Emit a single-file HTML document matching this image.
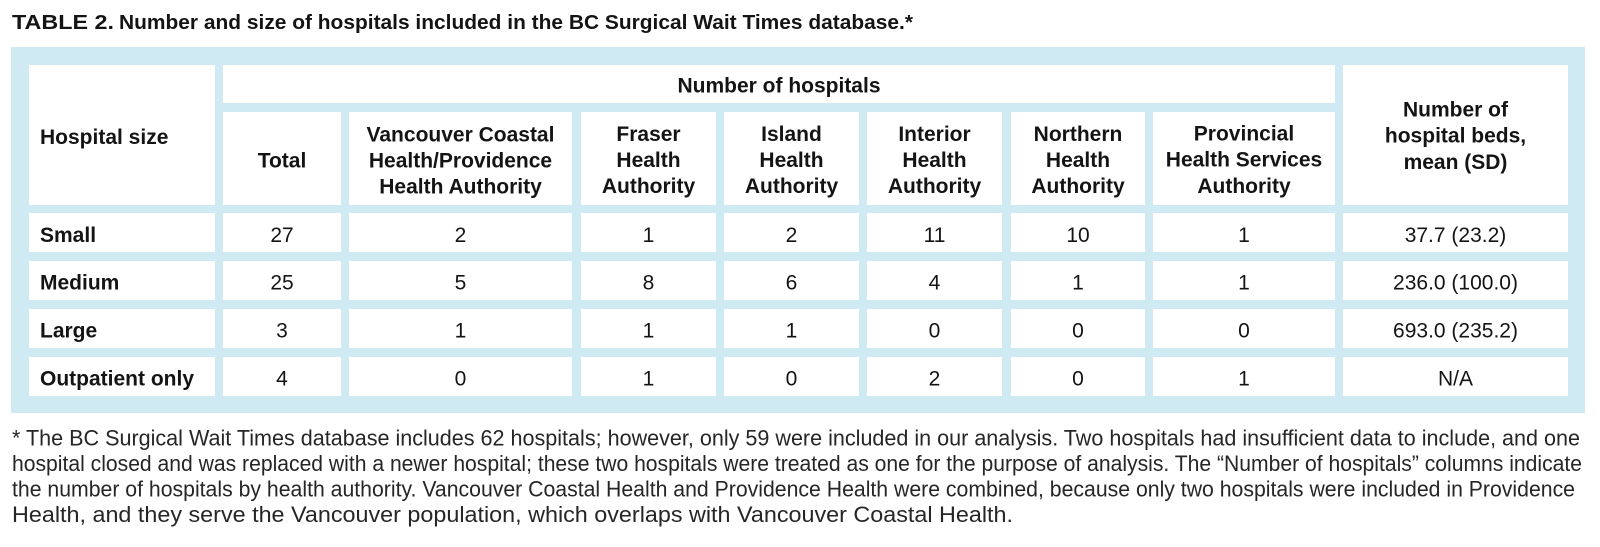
<!DOCTYPE html>
<html>
<head>
<meta charset="utf-8">
<style>
  html, body { margin: 0; padding: 0; background: #ffffff; }
  svg { display: block; }
  .h { font-family: "Liberation Sans", Arial, sans-serif; font-weight: bold; font-size: 21px; fill: #141414; }
  .d { font-family: "Liberation Sans", Arial, sans-serif; font-size: 21px; fill: #141414; }
  .b { font-family: "Liberation Sans", Arial, sans-serif; font-weight: bold; font-size: 21px; fill: #141414; }
  .fn { font-family: "Liberation Sans", Arial, sans-serif; font-size: 22px; fill: #262626; }
  .t { font-family: "Liberation Sans", Arial, sans-serif; font-weight: bold; font-size: 20px; fill: #141414; }
</style>
</head>
<body>
<svg width="1600" height="547" viewBox="0 0 1600 547" xmlns="http://www.w3.org/2000/svg">
  <!-- Title -->
  <text class="t" x="12" y="29" textLength="102" lengthAdjust="spacingAndGlyphs">TABLE 2.</text>
  <text class="t" x="119" y="29" textLength="794" lengthAdjust="spacingAndGlyphs">Number and size of hospitals included in the BC Surgical Wait Times database.*</text>

  <!-- Outer blue box -->
  <rect x="11" y="47" width="1574" height="366" fill="#cfeaf3"/>

  <!-- Header cells -->
  <g fill="#ffffff">
    <rect x="29" y="65" width="186" height="140"/>
    <rect x="223" y="65" width="1112" height="38"/>
    <rect x="1343" y="65" width="225" height="140"/>
    <rect x="223" y="112" width="118" height="93"/>
    <rect x="349" y="112" width="223" height="93"/>
    <rect x="581" y="112" width="135" height="93"/>
    <rect x="724" y="112" width="135" height="93"/>
    <rect x="867" y="112" width="135" height="93"/>
    <rect x="1011" y="112" width="134" height="93"/>
    <rect x="1153" y="112" width="182" height="93"/>
  </g>

  <!-- Data cells -->
  <g fill="#ffffff">
    <!-- row tops: 213, 261, 309, 357 -->
    <rect x="29" y="213" width="186" height="39"/><rect x="223" y="213" width="118" height="39"/><rect x="349" y="213" width="223" height="39"/><rect x="581" y="213" width="135" height="39"/><rect x="724" y="213" width="135" height="39"/><rect x="867" y="213" width="135" height="39"/><rect x="1011" y="213" width="134" height="39"/><rect x="1153" y="213" width="182" height="39"/><rect x="1343" y="213" width="225" height="39"/>
    <rect x="29" y="261" width="186" height="39"/><rect x="223" y="261" width="118" height="39"/><rect x="349" y="261" width="223" height="39"/><rect x="581" y="261" width="135" height="39"/><rect x="724" y="261" width="135" height="39"/><rect x="867" y="261" width="135" height="39"/><rect x="1011" y="261" width="134" height="39"/><rect x="1153" y="261" width="182" height="39"/><rect x="1343" y="261" width="225" height="39"/>
    <rect x="29" y="309" width="186" height="39"/><rect x="223" y="309" width="118" height="39"/><rect x="349" y="309" width="223" height="39"/><rect x="581" y="309" width="135" height="39"/><rect x="724" y="309" width="135" height="39"/><rect x="867" y="309" width="135" height="39"/><rect x="1011" y="309" width="134" height="39"/><rect x="1153" y="309" width="182" height="39"/><rect x="1343" y="309" width="225" height="39"/>
    <rect x="29" y="357" width="186" height="39"/><rect x="223" y="357" width="118" height="39"/><rect x="349" y="357" width="223" height="39"/><rect x="581" y="357" width="135" height="39"/><rect x="724" y="357" width="135" height="39"/><rect x="867" y="357" width="135" height="39"/><rect x="1011" y="357" width="134" height="39"/><rect x="1153" y="357" width="182" height="39"/><rect x="1343" y="357" width="225" height="39"/>
  </g>

  <!-- Header text -->
  <text class="h" x="40" y="144">Hospital size</text>
  <text class="h" x="779" y="92.5" text-anchor="middle">Number of hospitals</text>
  <text class="h" x="282" y="167.5" text-anchor="middle">Total</text>

  <g class="h" text-anchor="middle">
    <text x="460.5" y="141.5">Vancouver Coastal</text>
    <text x="460.5" y="167.5">Health/Providence</text>
    <text x="460.5" y="193.5">Health Authority</text>

    <text x="648.5" y="141">Fraser</text>
    <text x="648.5" y="167">Health</text>
    <text x="648.5" y="193">Authority</text>

    <text x="791.5" y="141">Island</text>
    <text x="791.5" y="167">Health</text>
    <text x="791.5" y="193">Authority</text>

    <text x="934.5" y="141">Interior</text>
    <text x="934.5" y="167">Health</text>
    <text x="934.5" y="193">Authority</text>

    <text x="1078" y="141">Northern</text>
    <text x="1078" y="167">Health</text>
    <text x="1078" y="193">Authority</text>

    <text x="1244" y="140.5">Provincial</text>
    <text x="1244" y="166.5">Health Services</text>
    <text x="1244" y="193">Authority</text>

    <text x="1455.5" y="116.5">Number of</text>
    <text x="1455.5" y="142.5">hospital beds,</text>
    <text x="1455.5" y="169">mean (SD)</text>
  </g>

  <!-- Row labels -->
  <text class="b" x="40" y="242">Small</text>
  <text class="b" x="40" y="289.5">Medium</text>
  <text class="b" x="40" y="337.5">Large</text>
  <text class="b" x="40" y="385.5">Outpatient only</text>

  <!-- Data -->
  <g class="d" text-anchor="middle">
    <text x="282" y="242">27</text><text x="460.5" y="242">2</text><text x="648.5" y="242">1</text><text x="791.5" y="242">2</text><text x="934.5" y="242">11</text><text x="1078" y="242">10</text><text x="1244" y="242">1</text><text x="1455.5" y="242">37.7 (23.2)</text>
    <text x="282" y="289.5">25</text><text x="460.5" y="289.5">5</text><text x="648.5" y="289.5">8</text><text x="791.5" y="289.5">6</text><text x="934.5" y="289.5">4</text><text x="1078" y="289.5">1</text><text x="1244" y="289.5">1</text><text x="1455.5" y="289.5">236.0 (100.0)</text>
    <text x="282" y="337.5">3</text><text x="460.5" y="337.5">1</text><text x="648.5" y="337.5">1</text><text x="791.5" y="337.5">1</text><text x="934.5" y="337.5">0</text><text x="1078" y="337.5">0</text><text x="1244" y="337.5">0</text><text x="1455.5" y="337.5">693.0 (235.2)</text>
    <text x="282" y="385.5">4</text><text x="460.5" y="385.5">0</text><text x="648.5" y="385.5">1</text><text x="791.5" y="385.5">0</text><text x="934.5" y="385.5">2</text><text x="1078" y="385.5">0</text><text x="1244" y="385.5">1</text><text x="1455.5" y="385.5">N/A</text>
  </g>

  <!-- Footnote -->
  <text class="fn" x="12" y="445.5" textLength="1568" lengthAdjust="spacingAndGlyphs">* The BC Surgical Wait Times database includes 62 hospitals; however, only 59 were included in our analysis. Two hospitals had insufficient data to include, and one</text>
  <text class="fn" x="12" y="471" textLength="1570" lengthAdjust="spacingAndGlyphs">hospital closed and was replaced with a newer hospital; these two hospitals were treated as one for the purpose of analysis. The “Number of hospitals” columns indicate</text>
  <text class="fn" x="12" y="496.5" textLength="1563" lengthAdjust="spacingAndGlyphs">the number of hospitals by health authority. Vancouver Coastal Health and Providence Health were combined, because only two hospitals were included in Providence</text>
  <text class="fn" x="12" y="522" textLength="1001" lengthAdjust="spacingAndGlyphs">Health, and they serve the Vancouver population, which overlaps with Vancouver Coastal Health.</text>
</svg>
</body>
</html>
